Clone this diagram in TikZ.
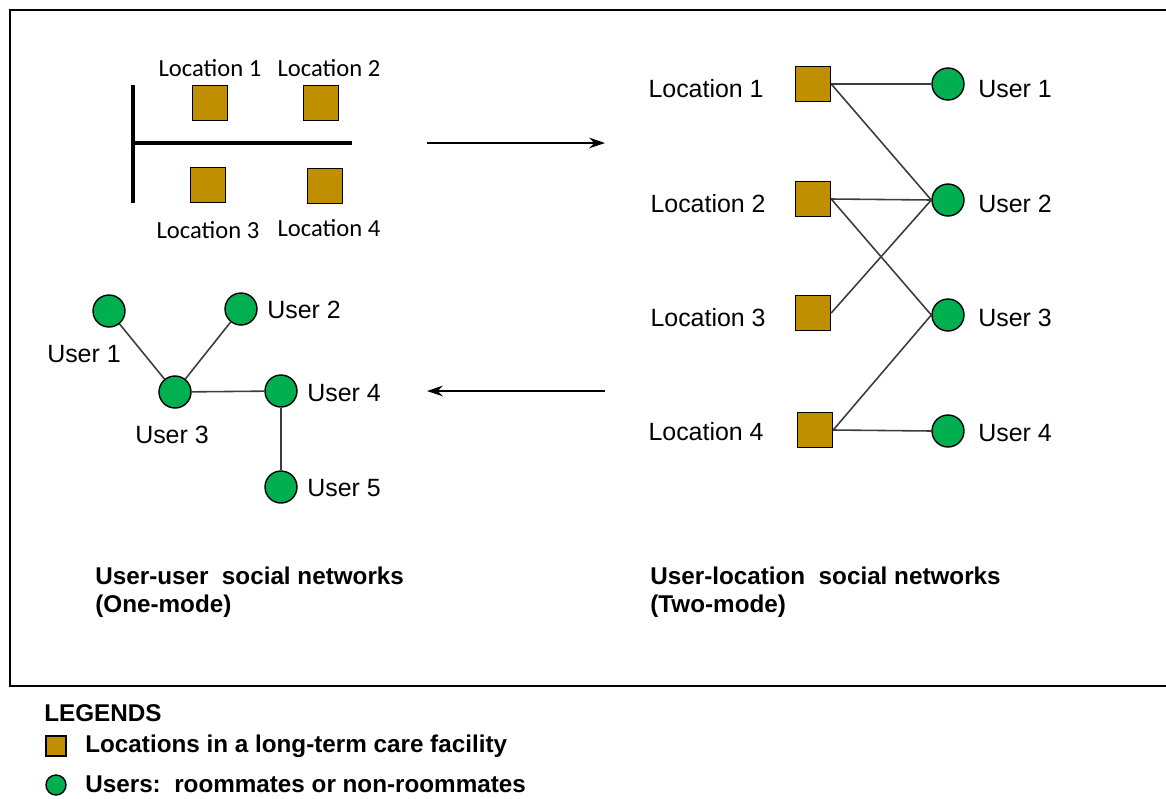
\documentclass[tikz,border=0pt]{standalone}
\usepackage{fontspec}
\setmainfont{Liberation Sans}
\newfontfamily\smallfont{Carlito}
\usetikzlibrary{arrows.meta}

\definecolor{locgold}{RGB}{191,143,0}
\definecolor{usergreen}{RGB}{0,176,80}
\definecolor{edgegray}{RGB}{60,60,60}

\begin{document}
\begin{tikzpicture}[
    x=0.02cm, y=-0.02cm,
    % Location: gold square
    location/.style={
        rectangle,
        draw=black,
        fill=locgold,
        line width=0.8pt,
        minimum size=0.7cm,
        inner sep=0pt,
        },
    % User: green disc
    user/.style={
        circle,
        draw=black,
        fill=usergreen,
        line width=0.8pt,
        minimum size=0.64cm,
        inner sep=0pt,
        },
    lbl/.style={font=\fontsize{14.2}{17}\selectfont, inner sep=0pt},
    smalllbl/.style={font=\smallfont\fontsize{14}{17}\selectfont, inner sep=0pt},
    heading/.style={font=\bfseries\fontsize{13.8}{17}\selectfont, inner sep=0pt, anchor=west},
    link/.style={draw=edgegray, line width=0.9pt},
    ]
    \useasboundingbox (0,0) rectangle (1166,798);
    \draw[line width=1.2pt] (1175,10) -- (10,10) -- (10,686) -- (1175,686);

    % floor plan
    \coordinate (wallTop) at (133,85);
    \coordinate (wallBot) at (133,203);
    \coordinate (wallMid) at (133,143);
    \coordinate (wallEnd) at (352,143);
    \draw[line width=2.4pt] (wallTop) -- (wallBot);
    \draw[line width=2.4pt] (wallMid) -- (wallEnd);
    \node [location] (pa) at (210,103) {};
    \node [location] (pb) at (321,103) {};
    \node [location] (pc) at (208,185) {};
    \node [location] (pd) at (325,186) {};
    \node [smalllbl] (pal) at (210,68) {Location 1};
    \node [smalllbl] (pbl) at (329,68) {Location 2};
    \node [smalllbl] (pcl) at (208,230) {Location 3};
    \node [smalllbl] (pdl) at (329,228) {Location 4};

    % arrows between the two views
    \coordinate (ra) at (427,143);
    \coordinate (rb) at (605,143);
    \coordinate (la) at (605,391);
    \coordinate (lb) at (427,391);
    \draw[-{Stealth[length=9pt,width=6pt]}, line width=0.8pt] (ra) -- (rb);
    \draw[-{Stealth[length=9pt,width=6pt]}, line width=0.8pt] (la) -- (lb);

    % two-mode network
    \node [location] (l1) at (813,84) {};
    \node [location] (l2) at (813,199) {};
    \node [location] (l3) at (813,313) {};
    \node [location] (l4) at (815,430) {};
    \node [user] (u1) at (948,84) {};
    \node [user] (u2) at (948,200) {};
    \node [user] (u3) at (948,315) {};
    \node [user] (u4) at (948,431) {};
    \node [lbl, anchor=east] (l1l) at (764,89) {Location 1};
    \node [lbl, anchor=east] (l2l) at (766,204) {Location 2};
    \node [lbl, anchor=east] (l3l) at (766,318) {Location 3};
    \node [lbl, anchor=east] (l4l) at (764,432) {Location 4};
    \node [lbl, anchor=west] (u1l) at (978,89) {User 1};
    \node [lbl, anchor=west] (u2l) at (978,204) {User 2};
    \node [lbl, anchor=west] (u3l) at (978,318) {User 3};
    \node [lbl, anchor=west] (u4l) at (978,433) {User 4};
    \draw[link] (l1.east) -- (u1.west);
    \draw[link] (l1.east) -- (u2.west);
    \draw[link] (l2.east) -- (u2.west);
    \draw[link] (l2.east) -- (u3.west);
    \draw[link] (l3.east) -- (u2.west);
    \draw[link] (l4.east) -- (u3.west);
    \draw[link] (l4.east) -- (u4.west);

    % one-mode network
    \node [user] (v1) at (109,311) {};
    \node [user] (v2) at (241,309) {};
    \node [user] (v3) at (175,392) {};
    \node [user] (v4) at (281,391) {};
    \node [user] (v5) at (281,487) {};
    \node [lbl] (v1l) at (84,354) {User 1};
    \node [lbl, anchor=west] (v2l) at (267,310) {User 2};
    \node [lbl] (v3l) at (172,435) {User 3};
    \node [lbl, anchor=west] (v4l) at (307,393) {User 4};
    \node [lbl, anchor=west] (v5l) at (307,488) {User 5};
    \draw[link] (v1) -- (v3);
    \draw[link] (v2) -- (v3);
    \draw[link] (v3) -- (v4);
    \draw[link] (v4) -- (v5);

    % captions
    \node [heading] (capa) at (95,576) {User-user\ \ social networks};
    \node [heading] (capb) at (95,606) {(One-mode)};
    \node [heading] (capc) at (650,576) {User-location\ \ social networks};
    \node [heading] (capd) at (650,606) {(Two-mode)};

    % legend
    \node [heading] (leg) at (44,713) {LEGENDS};
    \node [location, minimum size=0.4cm] (legloc) at (56,746) {};
    \node [user, minimum size=0.4cm] (leguser) at (56,785) {};
    \node [heading] (leglocl) at (85,746) {Locations in a long-term care facility};
    \node [heading] (leguserl) at (85,784) {Users:\ \ roommates or non-roommates};
\end{tikzpicture}
\end{document}
